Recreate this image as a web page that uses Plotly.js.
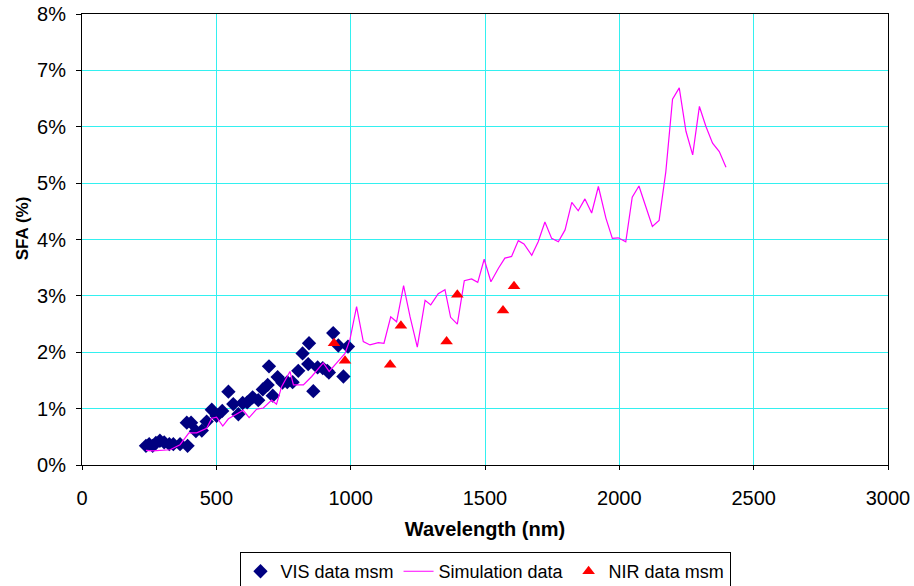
<!DOCTYPE html>
<html>
<head>
<meta charset="utf-8">
<script src="https://cdn.plot.ly/plotly-3.0.1.min.js"></script>
<style>html,body{margin:0;padding:0;background:#fff;overflow:hidden;}#wrap{width:914px;height:586px;overflow:hidden;}#chart{width:914px;height:612px;}</style>
</head>
<body>
<div id="wrap"><div id="chart"></div></div>
<script>
// VIS measurement data (wavelength nm, SFA %)
const visWavelength = [238,250,263,275,290,306,325,340,365,393,390,406,424,446,464,483,501,522,545,563,582,
  598,615,635,656,673,691,710,696,728,746,764,784,805,821,845,842,861,877,896,913,919,935,954,973,990];
const visSFA = [0.34,0.37,0.34,0.39,0.43,0.40,0.37,0.37,0.37,0.34,0.75,0.75,0.60,0.61,0.77,0.98,0.87,0.96,1.30,1.08,0.90,
  1.10,1.11,1.20,1.15,1.34,1.42,1.23,1.75,1.56,1.46,1.47,1.47,1.67,1.98,2.16,1.79,1.31,1.73,1.72,1.67,1.64,2.34,2.12,1.57,2.10];

// Simulation data
const simWavelength = [238,264,328,365,398,427,464,483,501,524,545,600,622,650,675,706,724,743,774,787,824,855,898,920,948,979,997,
  1022,1047,1072,1103,1124,1149,1171,1197,1221,1248,1277,1298,1326,1351,1372,1397,1423,1450,1473,1497,1522,1550,1574,1599,1624,1645,
  1674,1698,1723,1748,1773,1798,1823,1847,1872,1897,1922,1950,1974,1996,2024,2048,2073,2098,2123,2148,2173,2198,2223,2248,2273,2298,2322,2347,2372,2397];
const simSFA = [0.26,0.25,0.27,0.36,0.57,0.57,0.65,0.83,0.85,0.69,0.82,0.97,0.84,0.99,1.01,1.15,1.08,1.39,1.66,1.42,1.42,1.57,1.81,1.66,1.81,1.98,2.22,
  2.81,2.19,2.13,2.17,2.16,2.63,2.54,3.18,2.63,2.09,2.92,2.84,3.04,3.11,2.62,2.50,3.27,3.30,3.24,3.65,3.25,3.49,3.67,3.70,3.98,3.92,
  3.72,3.96,4.31,4.02,3.96,4.17,4.66,4.51,4.72,4.47,4.94,4.38,4.02,4.03,3.96,4.75,4.95,4.59,4.23,4.34,5.2,6.49,6.69,5.92,5.50,6.36,6.01,5.71,5.56,5.28];

// NIR measurement data
const nirWavelength = [938,979,1147,1187,1357,1397,1567,1608];
const nirSFA = [2.16,1.85,1.78,2.47,2.19,3.02,2.74,3.17];

const xTicks = [0,500,1000,1500,2000,2500,3000];
const yTicks = [0,1,2,3,4,5,6,7,8];

const font = 'Liberation Sans, Arial, sans-serif';
const traces = [
  {x: visWavelength, y: visSFA, name: 'VIS data msm', type: 'scatter', mode: 'markers',
   marker: {symbol: 'diamond', color: '#000080', size: 11}},
  {x: simWavelength, y: simSFA, name: 'Simulation data', type: 'scatter', mode: 'lines',
   line: {color: '#ff00ff', width: 1.2}},
  {x: nirWavelength, y: nirSFA, name: 'NIR data msm', type: 'scatter', mode: 'markers',
   marker: {symbol: 'triangle-up', color: '#ff0000', size: 11}}
];
const H = 612;
const layout = {
  width: 914, height: H,
  margin: {l: 82, r: 26, t: 14, b: H - 465},
  paper_bgcolor: '#ffffff', plot_bgcolor: '#ffffff',
  font: {family: font, size: 20, color: '#000'},
  showlegend: true,
  legend: {orientation: 'h', x: 0.5, xanchor: 'center', y: -0.193, yanchor: 'top',
    bordercolor: '#000', borderwidth: 1, font: {size: 18, family: font}, itemwidth: 30},
  xaxis: {range: [0, 3000], tickvals: xTicks, ticktext: xTicks.map(String),
    showgrid: true, gridcolor: '#33f0f0', gridwidth: 1,
    showline: true, linecolor: '#000', linewidth: 1, mirror: true,
    ticks: 'outside', ticklen: 4, tickcolor: '#000', zeroline: false,
    ticklabelstandoff: 11, tickfont: {size: 20},
    title: {text: '<b>Wavelength (nm)</b>', font: {size: 20, family: font}, standoff: 13}},
  yaxis: {range: [0, 8], tickvals: yTicks, ticktext: yTicks.map(v => v + '%'),
    showgrid: true, gridcolor: '#33f0f0', gridwidth: 1,
    showline: true, linecolor: '#000', linewidth: 1, mirror: true,
    ticks: 'outside', ticklen: 5, tickcolor: '#000', zeroline: false,
    ticklabelstandoff: 6, tickfont: {size: 20}},
  annotations: [{text: '<b>SFA (%)</b>', xref: 'paper', yref: 'paper', x: -0.0744, y: 0.525,
    xanchor: 'center', yanchor: 'middle', textangle: -90, showarrow: false,
    font: {size: 17, family: font, color: '#000'}}]
};
Plotly.newPlot('chart', traces, layout, {displayModeBar: false, staticPlot: true});
</script>
</body>
</html>
